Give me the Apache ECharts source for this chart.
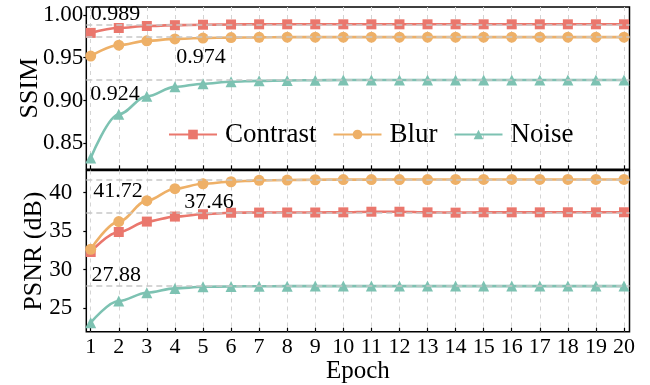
<!DOCTYPE html>
<html>
<head>
<meta charset="utf-8">
<script src="https://cdn.jsdelivr.net/npm/echarts@6/dist/echarts.min.js"></script>
<style>html,body{margin:0;padding:0;background:#fff;}#c{width:650px;height:385px;}</style>
</head>
<body>
<div id="c"></div>
<script>
// ---- data ----
const epochs = [1,2,3,4,5,6,7,8,9,10,11,12,13,14,15,16,17,18,19,20];
const seriesNames = ['Contrast','Blur','Noise'];
const ssimContrast = [0.979,0.9847,0.987,0.988,0.9885,0.9888,0.989,0.989,0.989,0.989,0.989,0.989,0.989,0.989,0.989,0.989,0.989,0.989,0.989,0.989];
const ssimBlur     = [0.952,0.9647,0.9697,0.972,0.973,0.9735,0.9738,0.974,0.974,0.974,0.974,0.974,0.974,0.974,0.974,0.974,0.974,0.974,0.974,0.974];
const ssimNoise    = [0.833,0.884,0.905,0.916,0.9197,0.922,0.923,0.9235,0.9238,0.924,0.924,0.924,0.924,0.924,0.924,0.924,0.924,0.924,0.924,0.924];
const psnrContrast = [32.3,34.9,36.25,36.9,37.2,37.4,37.42,37.43,37.43,37.45,37.53,37.53,37.45,37.41,37.45,37.45,37.45,37.46,37.45,37.46];
const psnrBlur     = [32.66,36.25,38.96,40.52,41.16,41.42,41.6,41.64,41.68,41.7,41.7,41.71,41.71,41.72,41.72,41.72,41.72,41.72,41.72,41.72];
const psnrNoise    = [23.13,25.94,27.01,27.58,27.79,27.84,27.86,27.87,27.88,27.88,27.88,27.88,27.88,27.88,27.88,27.88,27.88,27.88,27.88,27.88];
const ssimRefs = [0.989, 0.974, 0.924];
const psnrRefs = [41.72, 37.46, 27.88];
const ssimTicks = [0.85, 0.90, 0.95, 1.00];
const psnrTicks = [25, 30, 35, 40];

// annotation anchor positions (layout)
const ssimRefPos = [[1.0, 1.0005], [4.05, 0.9504], [0.98, 0.9077]];
const psnrRefPos = [[1.09, 40.21], [4.33, 38.80], [1.03, 29.32]];

const colors = ['#EA776D', '#EEB067', '#7DC2B2'];
const symbols = ['rect', 'circle', 'triangle'];
const symbolSizes = [10, 11, 11];
const FONT = "'Liberation Serif','Times New Roman',serif";

const chart = echarts.init(document.getElementById('c'), null, {renderer: 'canvas'});

function xAxisCfg(gridIndex, showLabels) {
  return {
    type: 'value', gridIndex, min: 0.843, max: 20.196,
    axisLine: {show: false},
    axisTick: {show: true, inside: true, length: 4, customValues: epochs, lineStyle: {color: '#000', width: 1.2}},
    axisLabel: {show: showLabels, customValues: epochs, color: '#000', fontFamily: FONT, fontSize: 22, margin: 5},
    splitLine: {show: true, lineStyle: {color: '#d4d4d4', type: [4, 4], width: 1}},
    name: showLabels ? 'Epoch' : '', nameLocation: 'middle', nameGap: 27, nameMoveOverlap: false,
    nameTextStyle: {color: '#000', fontFamily: FONT, fontSize: 25}
  };
}
function yAxisCfg(gridIndex, min, max, ticks, name, margin, nameGap, fmt) {
  return {
    type: 'value', gridIndex, min, max,
    axisLine: {show: false},
    axisTick: {show: true, inside: false, length: 3, customValues: ticks, lineStyle: {color: '#000', width: 1.2}},
    axisLabel: {customValues: ticks, color: '#000', fontFamily: FONT, fontSize: 23, margin, formatter: fmt},
    splitLine: {show: false},
    name, nameLocation: 'middle', nameGap, nameMoveOverlap: false,
    nameTextStyle: {color: '#000', fontFamily: FONT, fontSize: 26}
  };
}

const panels = [
  {vals: [ssimContrast, ssimBlur, ssimNoise], refs: ssimRefs, pos: ssimRefPos, fmt: v => v.toFixed(3)},
  {vals: [psnrContrast, psnrBlur, psnrNoise], refs: psnrRefs, pos: psnrRefPos, fmt: v => v.toFixed(2)}
];

const series = [];
panels.forEach((p, gi) => {
  p.vals.forEach((arr, si) => {
    series.push({
      name: seriesNames[si], type: 'line', xAxisIndex: gi, yAxisIndex: gi,
      data: arr.map((v, i) => [epochs[i], v]),
      smooth: 0.35, smoothMonotone: 'x',
      symbol: symbols[si], symbolSize: symbolSizes[si], showSymbol: true,
      lineStyle: {color: colors[si], width: 2.6},
      itemStyle: {color: colors[si]},
      z: 2,
      markLine: {
        silent: true, symbol: 'none', z: 10, precision: 4,
        lineStyle: {color: '#c8c8c8', type: [6, 4], width: 1.6},
        label: {show: false},
        data: [{yAxis: p.refs[si]}]
      },
      markPoint: {
        silent: true, symbol: 'circle', symbolSize: 0, z: 11,
        label: {show: true, position: 'right', distance: 0, color: '#000', fontFamily: FONT, fontSize: 22,
                formatter: () => p.fmt(p.refs[si])},
        data: [{coord: p.pos[si]}]
      },
      animation: false
    });
  });
});

chart.setOption({
  animation: false,
  backgroundColor: '#fff',
  grid: [
    {left: 86.3, right: 20.5, top: 7, height: 162.3, show: true, borderColor: '#000', borderWidth: 1.5, backgroundColor: 'transparent'},
    {left: 86.3, right: 20.5, top: 170.5, height: 161.2, show: true, borderColor: '#000', borderWidth: 1.5, backgroundColor: 'transparent'}
  ],
  xAxis: [xAxisCfg(0, false), xAxisCfg(1, true)],
  yAxis: [
    yAxisCfg(0, 0.8198, 1.0092, ssimTicks, 'SSIM', 3, 43, v => v.toFixed(2)),
    yAxisCfg(1, 21.96, 42.88, psnrTicks, 'PSNR (dB)', 14, 39, v => String(v))
  ],
  legend: {
    data: seriesNames, left: 163, top: 116, orient: 'horizontal',
    itemWidth: 48, itemHeight: 12, itemGap: 16,
    textStyle: {color: '#000', fontFamily: FONT, fontSize: 27, padding: [0, 0, 0, 3]}
  },
  series
});
</script>
</body>
</html>
